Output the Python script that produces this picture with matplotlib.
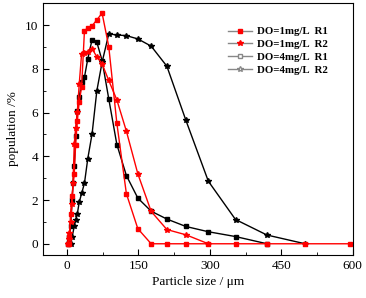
import numpy as np
import matplotlib
matplotlib.use("Agg")
import matplotlib.pyplot as plt
from matplotlib.lines import Line2D
from matplotlib.ticker import MultipleLocator

plt.rcParams['font.family'] = ['Liberation Serif', 'DejaVu Serif']

# DO=1mg/L R1 (red squares)
x_r1 = [2.8, 3.9, 5.5, 7.8, 11, 15.6, 18.5, 22, 26, 31, 37, 44, 53, 63, 74,
        88, 105, 125, 149, 177, 210, 250, 297, 354, 420, 500, 595]
y_r1 = [0, 0, 0.3, 1.37, 2.2, 3.2, 4.54, 5.6, 6.5, 7.16, 9.75, 9.87, 9.97, 10.24, 10.55,
        9.02, 5.51, 2.29, 0.69, 0, 0, 0, 0, 0, 0, 0, 0]

# DO=1mg/L R2 (red stars)
x_r2 = [2.8, 3.9, 5.5, 7.8, 11, 13, 15.6, 18.5, 22, 26, 31, 37, 44, 53, 63, 74,
        88, 105, 125, 149, 177, 210, 250, 297]
y_r2 = [0, 0.2, 0.5, 1.0, 1.8, 2.8, 4.57, 5.3, 6.03, 7.3, 8.69, 8.72, 8.76, 8.92, 8.55, 8.23,
        7.47, 6.58, 5.15, 3.2, 1.48, 0.65, 0.41, 0]

# DO=4mg/L R1 (black squares)
x_b1 = [2.8, 3.9, 5.5, 7.8, 11, 13, 15.6, 18.5, 22, 26, 31, 37, 44, 53, 63, 74,
        88, 105, 125, 149, 177, 210, 250, 297, 354, 420]
y_b1 = [0, 0.1, 0.3, 0.8, 1.98, 2.8, 3.57, 4.95, 6.05, 6.7, 7.39, 7.62, 8.46, 9.34, 9.22, 8.38,
        6.63, 4.54, 3.12, 2.09, 1.49, 1.13, 0.79, 0.55, 0.33, 0]

# DO=4mg/L R2 (black stars)
x_b2 = [7.8, 11, 15.6, 18.5, 22, 26, 31, 37, 44, 53, 63, 74,
        88, 105, 125, 149, 177, 210, 250, 297, 354, 420, 500]
y_b2 = [0, 0.3, 0.8, 1.1, 1.37, 1.9, 2.3, 2.77, 3.9, 5.03, 7.0, 8.3,
        9.6, 9.55, 9.52, 9.37, 9.04, 8.12, 5.64, 2.86, 1.11, 0.4, 0]

labels = ["DO=1mg/L  R1", "DO=1mg/L  R2", "DO=4mg/L  R1", "DO=4mg/L  R2"]

fig = plt.figure(figsize=(3.66, 2.98), dpi=100)
ax = fig.add_axes([0.1175, 0.1453, 0.8462, 0.8437])

ax.plot(x_b1, y_b1, "-s", color="black", lw=1, ms=3)
ax.plot(x_b2, y_b2, "-*", color="black", lw=1, ms=4)
ax.plot(x_r2, y_r2, "-*", color="red", lw=1, ms=4)
ax.plot(x_r1, y_r1, "-s", color="red", lw=1, ms=3)

ax.set_xlim(-50, 600)
ax.set_ylim(-0.5, 11)
ax.xaxis.set_major_locator(MultipleLocator(150))
ax.xaxis.set_minor_locator(MultipleLocator(75))
ax.yaxis.set_major_locator(MultipleLocator(2))
ax.yaxis.set_minor_locator(MultipleLocator(1))
ax.tick_params(which="both", direction="in", top=False, right=False, labelsize=9.5)
ax.tick_params(which="major", length=4)
ax.tick_params(which="minor", length=2)
ax.set_xlabel("Particle size / μm", fontsize=9.5, labelpad=3)
ax.set_ylabel("population /%", fontsize=9.5, labelpad=4)

handles = [
    Line2D([], [], color="#888888", lw=1, marker="s", ms=3, mfc="red", mec="red"),
    Line2D([], [], color="#888888", lw=1, marker="*", ms=4, mfc="red", mec="red"),
    Line2D([], [], color="#888888", lw=1, marker="s", ms=3, mfc="white", mec="#888888"),
    Line2D([], [], color="#888888", lw=1, marker="*", ms=4, mfc="white", mec="#888888"),
]
ax.legend(handles, labels, loc="upper right", bbox_to_anchor=(0.95, 0.945), frameon=False,
          prop={"weight": "bold", "size": 7.8}, handlelength=2.2, handletextpad=0.4,
          labelspacing=0.3)

fig.savefig("out.png", dpi=100)
